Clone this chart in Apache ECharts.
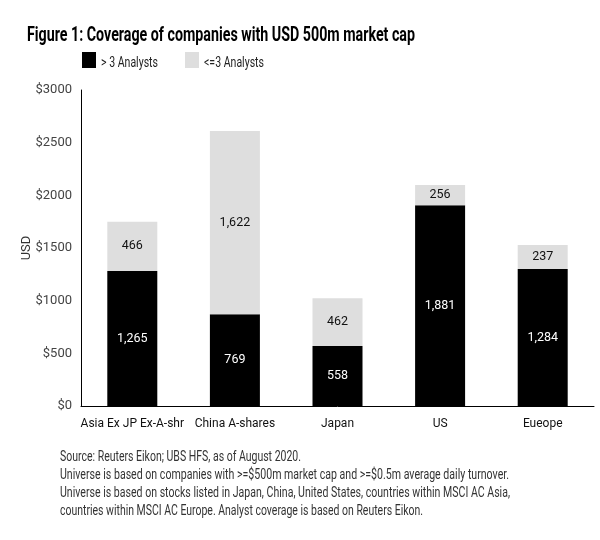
<!DOCTYPE html>
<html>
<head>
<meta charset="utf-8">
<script src="https://cdn.jsdelivr.net/npm/echarts@6/dist/echarts.min.js"></script>
<style>html,body{margin:0;padding:0;background:#fff}#c{width:600px;height:540px}</style>
</head>
<body>
<div id="c"></div>
<script>
const categories = ['Asia Ex JP Ex-A-shr', 'China A-shares', 'Japan', 'US', 'Eueope'];
// bar heights
const moreThan3 = [1282, 870, 570, 1905, 1300];
const upTo3 = [468, 1741, 452, 193, 229];
// printed labels
const moreThan3Labels = ['1,265', '769', '558', '1,881', '1,284'];
const upTo3Labels = ['466', '1,622', '462', '256', '237'];
const yTicks = ['$0', '$500', '$1000', '$1500', '$2000', '$2500', '$3000'];
const seriesNames = ['> 3 Analysts', '<=3 Analysts'];
const titleText = 'Figure 1: Coverage of companies with USD 500m market cap';
const footnotes = [
  'Source: Reuters Eikon; UBS HFS, as of August 2020.',
  'Universe is based on companies with >=$500m market cap and >=$0.5m average daily turnover.',
  'Universe is based on stocks listed in Japan, China, United States, countries within MSCI AC Asia,',
  'countries within MSCI AC Europe. Analyst coverage is based on Reuters Eikon.'
];

const FONT = 'Roboto, "Liberation Sans", sans-serif';
const mctx = document.createElement('canvas').getContext('2d');
function measure(text, size, weight) {
  mctx.font = (weight || 'normal') + ' ' + size + 'px ' + FONT;
  return mctx.measureText(text).width;
}
// horizontally condensed text to imitate the narrow typeface
function condensed(text, x, y, size, weight, color, targetWidth) {
  const s = targetWidth / measure(text, size, weight);
  return {type: 'text', x: x, y: y, scaleX: s, scaleY: 1,
    style: {text: text, fontFamily: FONT, fontSize: size, fontWeight: weight || 'normal',
      fill: color, textVerticalAlign: 'middle', textAlign: 'left'}};
}
const COLORS = ['#000000', '#dedede'];

const graphics = [];
graphics.push(condensed(titleText, 27, 36, 20, 'bold', '#000', 388));
graphics.push({type: 'rect', shape: {x: 82, y: 52, width: 14, height: 16}, style: {fill: COLORS[0]}});
graphics.push(condensed(seriesNames[0], 101, 63, 14, 'normal', '#222', 57));
graphics.push({type: 'rect', shape: {x: 185, y: 52, width: 14, height: 16}, style: {fill: COLORS[1]}});
graphics.push(condensed(seriesNames[1], 204, 63, 14, 'normal', '#222', 60));
const fnWidths = [241, 449, 450, 363];
footnotes.forEach((t, i) => graphics.push(condensed(t, 60, 457 + i * 18, 14, 'normal', '#333', fnWidths[i])));

const chart = echarts.init(document.getElementById('c'), null, {renderer: 'canvas'});
chart.setOption({
  animation: false,
  backgroundColor: '#fff',
  textStyle: {fontFamily: FONT},
  grid: {left: 81, right: 6, top: 90, bottom: 134, containLabel: false},
  xAxis: {
    type: 'category',
    data: categories,
    axisLine: {lineStyle: {color: '#000', width: 1}},
    axisTick: {show: false},
    axisLabel: {interval: 0, fontFamily: FONT, fontSize: 12, color: '#111', margin: 12}
  },
  yAxis: {
    type: 'value',
    min: 0, max: 3000, interval: 500,
    name: 'USD', nameLocation: 'middle', nameGap: 48, nameRotate: 90, nameMoveOverlap: false,
    nameTextStyle: {fontFamily: FONT, fontSize: 13, color: '#333'},
    axisLine: {show: true, lineStyle: {color: '#000', width: 1}},
    axisTick: {show: false},
    splitLine: {show: false},
    axisLabel: {fontFamily: FONT, fontSize: 13, color: '#444', margin: 9,
      formatter: (v) => yTicks[Math.round(v / 500)]}
  },
  series: [
    {
      name: seriesNames[0], type: 'bar', stack: 'a', barWidth: 50,
      data: moreThan3,
      itemStyle: {color: COLORS[0]},
      label: {show: true, position: 'inside', color: '#fff', fontFamily: FONT, fontSize: 12.5,
        formatter: (p) => moreThan3Labels[p.dataIndex]}
    },
    {
      name: seriesNames[1], type: 'bar', stack: 'a', barWidth: 50,
      data: upTo3,
      itemStyle: {color: COLORS[1]},
      label: {show: true, position: 'inside', color: '#111', fontFamily: FONT, fontSize: 12.5,
        formatter: (p) => upTo3Labels[p.dataIndex]}
    }
  ],
  graphic: graphics
});
</script>
</body>
</html>
